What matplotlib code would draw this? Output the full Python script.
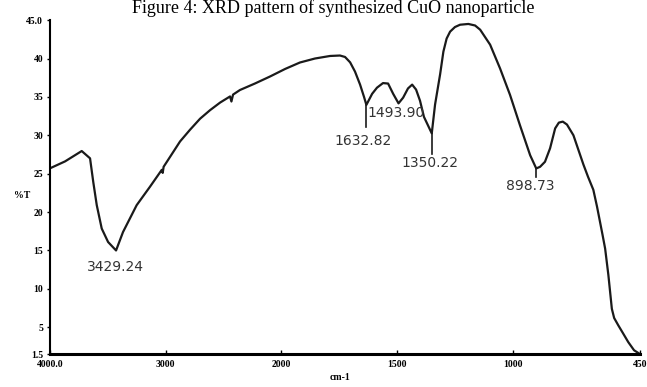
import numpy as np
import matplotlib
matplotlib.use("Agg")
import matplotlib.pyplot as plt

# FTIR transmittance trace (wavenumber in cm-1, %T)
wavenumber = [4000, 3870, 3726, 3654, 3626, 3596, 3553, 3498, 3429.24, 3369, 3251,
              3136, 3034, 3026, 3018, 2962, 2876, 2790, 2703, 2617, 2530, 2444,
              2432, 2418, 2358, 2228, 2098, 1984, 1920, 1855, 1790, 1747, 1725,
              1703, 1682, 1660, 1643, 1632.82, 1608, 1587, 1561, 1539, 1517,
              1493.9, 1474, 1453, 1435, 1418, 1401, 1384, 1350.22, 1336, 1314,
              1300, 1286, 1271, 1250, 1228, 1192, 1163, 1141, 1098, 1055, 1012,
              969, 925, 898.73, 882, 861, 839, 817, 801, 784, 766, 738, 695, 675,
              652, 636, 623, 612, 601, 587, 572, 562, 544, 524, 501, 476, 450]
transmittance = [25.7, 26.6, 27.95, 27.0, 23.9, 20.9, 17.85, 16.1, 15.0, 17.4, 20.9,
                 23.3, 25.5, 25.1, 25.9, 27.2, 29.2, 30.72, 32.16, 33.27, 34.26, 35.06,
                 34.4, 35.3, 35.9, 36.75, 37.66, 38.64, 39.48, 40.0, 40.33, 40.39, 40.2,
                 39.5, 38.3, 36.6, 35.0, 33.96, 35.4, 36.2, 36.8, 36.74, 35.4,
                 34.16, 34.9, 36.1, 36.6, 35.95, 34.5, 32.4, 30.25, 34.0, 37.97,
                 40.9, 42.6, 43.5, 44.1, 44.4, 44.5, 44.3, 43.75, 41.8, 38.7, 35.26,
                 31.3, 27.4, 25.68, 25.9, 26.55, 28.3, 30.9, 31.65, 31.78, 31.4, 30.0, 26.2, 24.6,
                 22.9, 20.7, 18.7, 17.0, 15.24, 11.8, 7.4, 6.2, 5.24, 4.23, 3.06, 2.0, 1.5]

# labelled bands
peak_values = [3429.24, 1632.82, 1493.90, 1350.22, 898.73]
peak_text = ["3429.24", "1632.82", "1493.90", "1350.22", "898.73"]
text_x = [3435, 1645, 1505, 1358, 925]
text_y = [12.9, 29.3, 32.9, 26.4, 23.4]
line_bottom = [None, 31.1, None, 27.6, 24.6]

xticks = [4000, 3000, 2000, 1500, 1000, 450]
xticklabels = ["4000.0", "3000", "2000", "1500", "1000", "450"]
yticks = [1.5, 5, 10, 15, 20, 25, 30, 35, 40, 45]
yticklabels = ["1.5", "5", "10", "15", "20", "25", "30", "35", "40", "45.0"]


def fwd(w):
    # 4000-2000 cm-1 drawn at half the scale of 2000-450 cm-1
    w = np.asarray(w, dtype=float)
    return np.where(w > 2000, 2000 + (w - 2000) / 2.0, w)


def inv(t):
    t = np.asarray(t, dtype=float)
    return np.where(t > 2000, 2000 + 2.0 * (t - 2000), t)


fig = plt.figure(figsize=(6.47, 3.87), dpi=100)
ax = fig.add_axes([0.0773, 0.085, 0.9120, 0.863])

ax.set_xscale("function", functions=(fwd, inv))
ax.plot(wavenumber, transmittance, color="#1a1a1a", lw=1.6,
        solid_joinstyle="round", solid_capstyle="round")

ax.set_xlim(4000, 450)
ax.set_ylim(1.5, 45)

for v, s, tx, ty, lb in zip(peak_values, peak_text, text_x, text_y, line_bottom):
    yv = np.interp(v, wavenumber[::-1], transmittance[::-1])
    if lb is not None:
        ax.plot([v, v], [yv, lb], color="#1a1a1a", lw=1.2)
    ax.text(tx, ty, s, ha="center", va="center", fontsize=10,
            family="DejaVu Sans", color="#333333")

ax.set_xticks(xticks)
ax.set_xticklabels(xticklabels)
ax.set_yticks(yticks)
ax.set_yticklabels(yticklabels)
ax.minorticks_off()
for lab in ax.get_xticklabels() + ax.get_yticklabels():
    lab.set_family("Liberation Serif")
    lab.set_fontweight("bold")
    lab.set_fontsize(7)
ax.tick_params(axis="x", direction="in", length=3, width=1, pad=4)
ax.tick_params(axis="y", direction="out", length=2, width=1, pad=3)

for side in ["top", "right"]:
    ax.spines[side].set_visible(False)
ax.spines["left"].set_linewidth(1.5)
ax.spines["bottom"].set_linewidth(2.2)

fig.text(0.034, 0.496, "%T", fontsize=7, family="Liberation Serif",
         fontweight="bold", ha="center", va="center")
fig.text(0.526, 0.025, "cm-1", fontsize=7, family="Liberation Serif",
         fontweight="bold", ha="center", va="center")

fig.text(0.515, 1 - 13 / 387, "Figure 4: XRD pattern of synthesized CuO nanoparticle",
         fontsize=13, family="Liberation Serif", ha="center", va="baseline")

fig.savefig("out.png", dpi=100)
